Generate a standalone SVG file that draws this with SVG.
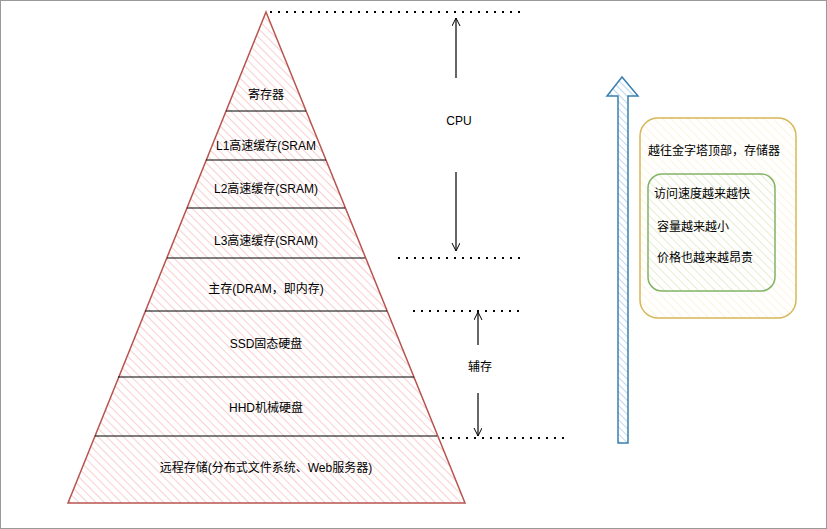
<svg xmlns="http://www.w3.org/2000/svg" width="827" height="529" viewBox="0 0 827 529">
<defs>
<pattern id="hr" width="6" height="6" patternUnits="userSpaceOnUse" patternTransform="rotate(-45)"><line x1="0" y1="0" x2="0" y2="6" stroke="#f4a0a0" stroke-width="1"/></pattern>
<pattern id="hb" width="5" height="5" patternUnits="userSpaceOnUse" patternTransform="rotate(-45)"><line x1="0" y1="0" x2="0" y2="5" stroke="#7fb3dc" stroke-width="1"/></pattern>
<pattern id="hy" width="6" height="6" patternUnits="userSpaceOnUse" patternTransform="rotate(-45)"><line x1="0" y1="0" x2="0" y2="6" stroke="#fbe9c0" stroke-width="1"/></pattern>
<pattern id="hg" width="6" height="6" patternUnits="userSpaceOnUse" patternTransform="rotate(-45)"><line x1="0" y1="0" x2="0" y2="6" stroke="#d6e8c8" stroke-width="1"/></pattern>
<marker id="ah" markerWidth="10" markerHeight="10" refX="8" refY="4" orient="auto" markerUnits="userSpaceOnUse"><path d="M0,0 L8,4 L0,8" fill="none" stroke="#000" stroke-width="1"/></marker>
</defs>
<style>
text{font-family:"Liberation Sans","Noto Sans CJK SC",sans-serif;font-size:12px;fill:#000}
.c{text-anchor:middle}
.band{stroke:#000;stroke-width:1}
.dot{stroke:#000;stroke-width:2;stroke-dasharray:2 6}
.ar{stroke:#000;stroke-width:1.2;fill:none;marker-end:url(#ah)}
</style>
<rect x="0.5" y="0.5" width="826" height="528" fill="#fff" stroke="#999"/>
<g id="pyramid">
<polygon points="266,12 465,503 68,503" fill="url(#hr)" stroke="#b85450" stroke-width="1.5"/>
<line class="band" x1="226" y1="111" x2="306" y2="111"/>
<line class="band" x1="206" y1="160" x2="326" y2="160"/>
<line class="band" x1="187" y1="208" x2="345" y2="208"/>
<line class="band" x1="167" y1="258" x2="365" y2="258"/>
<line class="band" x1="145" y1="311" x2="387" y2="311"/>
<line class="band" x1="118" y1="377" x2="414" y2="377"/>
<line class="band" x1="95" y1="436" x2="437" y2="436"/>
</g>
<g id="labels">
<text class="c" x="266" y="99">寄存器</text>
<text class="c" x="266" y="150">L1高速缓存(SRAM</text>
<text class="c" x="266" y="193">L2高速缓存(SRAM)</text>
<text class="c" x="266" y="245">L3高速缓存(SRAM)</text>
<text class="c" x="266" y="293">主存(DRAM，即内存)</text>
<text class="c" x="266" y="348">SSD固态硬盘</text>
<text class="c" x="266" y="412">HHD机械硬盘</text>
<text class="c" x="266" y="472">远程存储(分布式文件系统、Web服务器)</text>
<text class="c" x="459" y="125">CPU</text>
<text class="c" x="480" y="371">辅存</text>
</g>
<g id="connectors">
<line class="dot" x1="270" y1="12" x2="522" y2="12"/>
<line class="dot" x1="398" y1="258" x2="522" y2="258"/>
<line class="dot" x1="413" y1="311" x2="522" y2="311"/>
<line class="dot" x1="442" y1="438" x2="566" y2="438"/>
<line class="ar" x1="456" y1="78" x2="456" y2="18"/>
<line class="ar" x1="456" y1="172" x2="456" y2="251"/>
<line class="ar" x1="478" y1="345" x2="478" y2="312"/>
<line class="ar" x1="478" y1="393" x2="478" y2="436"/>
</g>
<g id="bigarrow">
<polygon points="618,443 628,443 628,96 638,96 622,77 607,96 618,96" fill="url(#hb)" stroke="#3a7fb0" stroke-width="1.5"/>
</g>
<g id="outer">
<rect x="640" y="118" width="156" height="200" rx="18" fill="url(#hy)" stroke="#d6b656" stroke-width="1.5"/>
<text x="648" y="155">越往金字塔顶部，存储器</text>
</g>
<g id="inner">
<rect x="648" y="174" width="127" height="117" rx="14" fill="url(#hg)" stroke="#82b366" stroke-width="1.5"/>
<text x="654" y="198">访问速度越来越快</text>
<text x="657" y="231">容量越来越小</text>
<text x="657" y="262">价格也越来越昂贵</text>
</g>
</svg>
